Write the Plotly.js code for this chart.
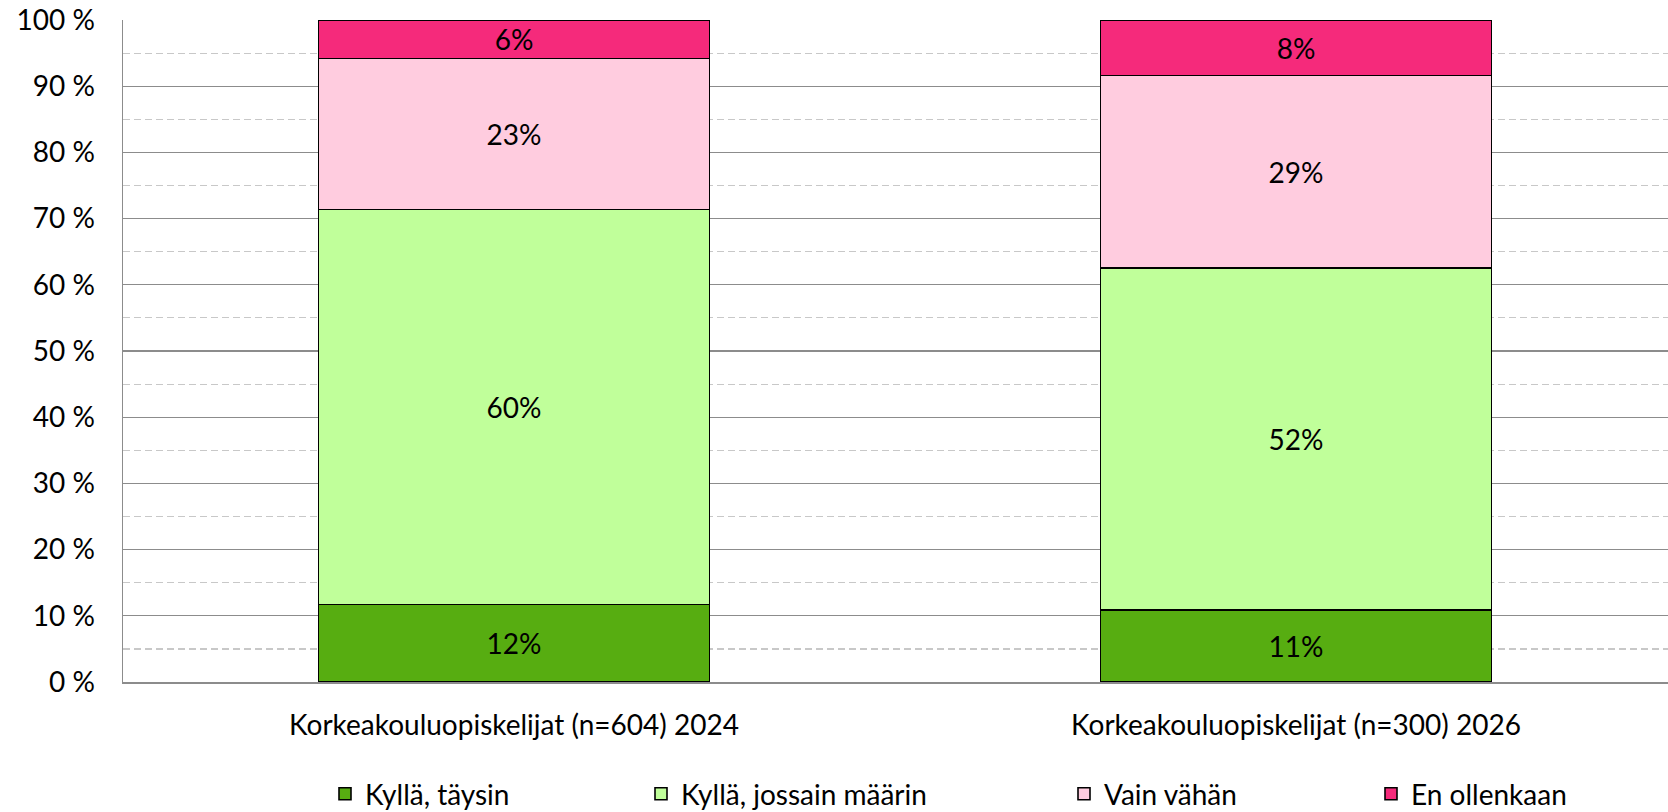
<!DOCTYPE html>
<html>
<head>
<meta charset="utf-8">
<script src="https://cdn.plot.ly/plotly-3.0.1.min.js"></script>
<style>html,body{margin:0;padding:0;background:#fff;}#chart{width:1668px;height:812px;}</style>
</head>
<body>
<div id="chart"></div>
<script>
var categories = ['Korkeakouluopiskelijat (n=604) 2024', 'Korkeakouluopiskelijat (n=300) 2026'];
var seriesNames = ['Kyllä, täysin', 'Kyllä, jossain määrin', 'Vain vähän', 'En ollenkaan'];
var kyllaTaysin = [11.7, 10.9];
var kyllaJossain = [59.7, 51.6];
var vainVahan = [22.8, 29.1];
var enOllenkaan = [5.8, 8.4];
var labelsTaysin = ['12%', '11%'];
var labelsJossain = ['60%', '52%'];
var labelsVahan = ['23%', '29%'];
var labelsEn = ['6%', '8%'];
var yTickVals = [0, 10, 20, 30, 40, 50, 60, 70, 80, 90, 100];
var yTickLabels = ['0 %', '10 %', '20 %', '30 %', '40 %', '50 %', '60 %', '70 %', '80 %', '90 %', '100 %'];

var FONT = 'Lato, "Open Sans", sans-serif';
var FS = 28;
var colors = ['#57AD11', '#C0FF9A', '#FFCCDF', '#F52A7B'];
var values = [kyllaTaysin, kyllaJossain, vainVahan, enOllenkaan];
var labels = [labelsTaysin, labelsJossain, labelsVahan, labelsEn];
var legendIds = ['legend', 'legend2', 'legend3', 'legend4'];

var traces = seriesNames.map(function (name, i) {
  return {
    type: 'bar',
    name: name,
    x: categories,
    y: values[i],
    text: labels[i],
    textposition: 'inside',
    insidetextanchor: 'middle',
    textfont: {family: FONT, size: FS, color: '#000'},
    constraintext: 'none',
    hoverinfo: 'skip',
    marker: {color: colors[i], line: {color: '#000', width: 1.6}},
    legend: legendIds[i]
  };
});

var W = 1668, H = 812;
var plotW = W - 123;
function leg(xpx) {
  return {
    orientation: 'h',
    xref: 'container', yref: 'container',
    x: xpx / W, xanchor: 'left',
    y: 1 - 794 / H, yanchor: 'middle',
    font: {family: FONT, size: FS, color: '#000'},
    bgcolor: 'rgba(0,0,0,0)', itemwidth: 30, itemclick: false, itemdoubleclick: false
  };
}

var layout = {
  width: W, height: H,
  margin: {l: 123, r: 0, t: 20, b: 130, pad: 0, autoexpand: false},
  paper_bgcolor: '#fff', plot_bgcolor: '#fff',
  barmode: 'stack',
  bargap: 0.5,
  font: {family: FONT, size: FS, color: '#000'},
  showlegend: true,
  xaxis: {
    type: 'category',
    range: [-0.5, -0.5 + plotW / 782],
    showline: true, linecolor: '#8c8c8c', linewidth: 1.5,
    showgrid: false, zeroline: false,
    ticks: '', ticklabelstandoff: 18,
    tickfont: {family: FONT, size: FS, color: '#000'}
  },
  yaxis: {
    range: [0, 100],
    tickmode: 'array',
    tickvals: yTickVals,
    ticktext: yTickLabels,
    showline: true, linecolor: '#8c8c8c', linewidth: 1.5,
    showgrid: true, gridcolor: '#8c8c8c', gridwidth: 1.2,
    zeroline: false,
    ticks: '', ticklabelstandoff: 21,
    tickfont: {family: FONT, size: FS, color: '#000'},
    minor: {dtick: 5, tick0: 0, showgrid: true, gridcolor: '#c8c8c8', gridwidth: 1.2, griddash: '7px,4px', ticks: ''}
  },
  legend: leg(325),
  legend2: leg(641),
  legend3: leg(1064),
  legend4: leg(1371)
};

Plotly.newPlot('chart', traces, layout, {displayModeBar: false, staticPlot: true});
</script>
</body>
</html>
